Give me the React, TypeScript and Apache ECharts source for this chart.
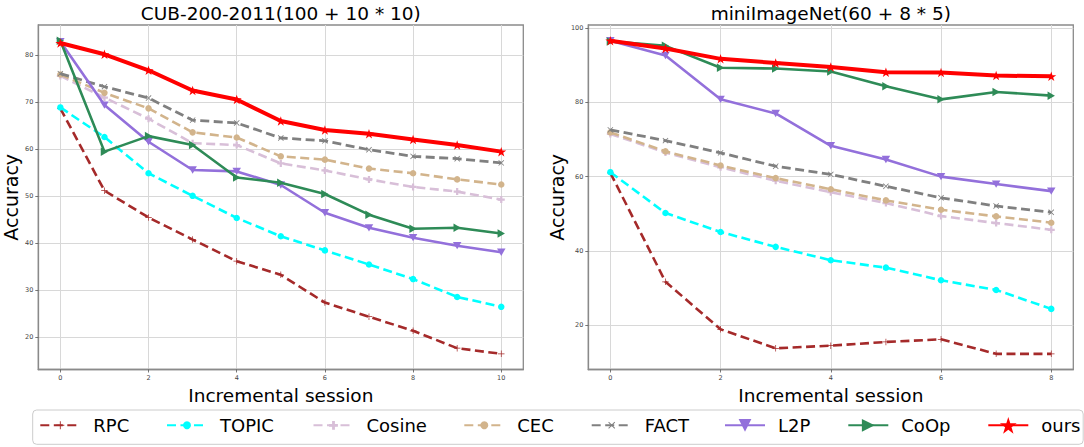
import React, { useEffect, useRef } from "react";
import * as echarts from "echarts";

// ---------- data ----------
const methods = ["RPC", "TOPIC", "Cosine", "CEC", "FACT", "L2P", "CoOp", "ours"];

const cubSessions = [0, 1, 2, 3, 4, 5, 6, 7, 8, 9, 10];
const cubRPC = [68.6, 51.1, 45.4, 40.7, 36.1, 33.2, 27.3, 24.3, 21.3, 17.6, 16.4];
const cubTOPIC = [68.8, 62.5, 54.8, 50.0, 45.3, 41.4, 38.4, 35.4, 32.3, 28.5, 26.4];
const cubCosine = [75.5, 70.9, 66.4, 61.2, 60.8, 56.9, 55.4, 53.5, 51.9, 50.9, 49.2];
const cubCEC = [75.8, 71.9, 68.6, 63.5, 62.4, 58.4, 57.7, 55.8, 54.8, 53.5, 52.4];
const cubFACT = [76.0, 73.2, 70.8, 66.1, 65.5, 62.3, 61.7, 59.8, 58.4, 57.9, 57.0];
const cubL2P = [82.8, 69.3, 61.5, 55.5, 55.2, 52.3, 46.4, 43.2, 41.1, 39.4, 38.0];
const cubCoOp = [83.0, 59.4, 62.7, 60.8, 53.9, 52.8, 50.4, 46.0, 43.0, 43.2, 42.0];
const cubOurs = [82.5, 80.1, 76.7, 72.4, 70.5, 65.9, 64.0, 63.2, 62.0, 60.8, 59.4];

const miniSessions = [0, 1, 2, 3, 4, 5, 6, 7, 8];
const miniRPC = [61.0, 31.7, 18.9, 13.8, 14.5, 15.5, 16.2, 12.3, 12.3];
const miniTOPIC = [61.2, 50.2, 45.1, 41.1, 37.5, 35.5, 32.1, 29.5, 24.4];
const miniCosine = [71.5, 66.5, 62.5, 58.9, 55.8, 52.9, 49.4, 47.5, 45.7];
const miniCEC = [71.9, 66.8, 63.0, 59.6, 56.6, 53.6, 51.1, 49.3, 47.6];
const miniFACT = [72.6, 69.7, 66.4, 62.8, 60.6, 57.4, 54.3, 52.1, 50.4];
const miniL2P = [96.6, 92.6, 80.8, 77.0, 68.3, 64.6, 60.0, 58.0, 56.1];
const miniCoOp = [96.4, 95.2, 89.3, 89.1, 88.3, 84.3, 80.8, 82.8, 81.8];
const miniOurs = [96.6, 94.5, 91.7, 90.6, 89.5, 88.1, 88.0, 87.2, 87.0];

const cubXTicks = [0, 2, 4, 6, 8, 10];
const cubYTicks = [20, 30, 40, 50, 60, 70, 80];
const miniXTicks = [0, 2, 4, 6, 8];
const miniYTicks = [20, 40, 60, 80, 100];

const cubTitle = "CUB-200-2011(100 + 10 * 10)";
const miniTitle = "miniImageNet(60 + 8 * 5)";
const xName = "Incremental session";
const yName = "Accuracy";

// ---------- styles ----------
const FONT = "DejaVu Sans";
const PLUS = "path://M-0.55,-5H0.55V-0.55H5V0.55H0.55V5H-0.55V0.55H-5V-0.55H-0.55Z";
const PLUS_FILLED = "path://M-1.6,-5H1.6V-1.6H5V1.6H1.6V5H-1.6V1.6H-5V-1.6H-1.6Z";
const TRI_DOWN = "path://M-5,-4.33L5,-4.33L0,4.33Z";
const TRI_RIGHT = "path://M-4.33,-5L4.33,0L-4.33,5Z";
const STAR =
  "path://M0,-1L0.2245,-0.309L0.9511,-0.309L0.3633,0.118L0.5878,0.809L0,0.382L-0.5878,0.809L-0.3633,0.118L-0.9511,-0.309L-0.2245,-0.309Z";

const styleOf: Record<string, any> = {
  RPC: { color: "#a52a2a", dash: true, width: 2.6, symbol: PLUS, size: 6.5, rotate: 0, legendH: 10 },
  TOPIC: { color: "#00ffff", dash: true, width: 2.6, symbol: "circle", size: 6.5, rotate: 0, legendH: 10 },
  Cosine: { color: "#d8bfd8", dash: true, width: 2.6, symbol: PLUS_FILLED, size: 7, rotate: 0, legendH: 11 },
  CEC: { color: "#d2b48c", dash: true, width: 2.6, symbol: "circle", size: 6.5, rotate: 0, legendH: 10 },
  FACT: { color: "#808080", dash: true, width: 2.8, symbol: PLUS, size: 7.5, rotate: 45, legendH: 11 },
  L2P: { color: "#9370db", dash: false, width: 2.6, symbol: TRI_DOWN, size: 8.5, rotate: 0, legendH: 16 },
  CoOp: { color: "#2e8b57", dash: false, width: 2.6, symbol: TRI_RIGHT, size: 8.5, rotate: 0, legendH: 16 },
  ours: { color: "#ff0000", dash: false, width: 4, symbol: STAR, size: 10, rotate: 0, legendH: 21 },
};

const legendLefts = [39.3, 166, 312.5, 463.3, 590.7, 724, 847.3, 987.3];

const cubValues: Record<string, number[]> = {
  RPC: cubRPC, TOPIC: cubTOPIC, Cosine: cubCosine, CEC: cubCEC,
  FACT: cubFACT, L2P: cubL2P, CoOp: cubCoOp, ours: cubOurs,
};
const miniValues: Record<string, number[]> = {
  RPC: miniRPC, TOPIC: miniTOPIC, Cosine: miniCosine, CEC: miniCEC,
  FACT: miniFACT, L2P: miniL2P, CoOp: miniCoOp, ours: miniOurs,
};

function makeSeries(name: string, sessions: number[], values: number[], idx: number, order: number) {
  const st = styleOf[name];
  return {
    type: "line",
    name,
    xAxisIndex: idx,
    yAxisIndex: idx,
    data: sessions.map((s, i) => [s, values[i]]),
    symbol: st.symbol,
    symbolSize: st.size,
    symbolRotate: st.rotate,
    symbolKeepAspect: true,
    showAllSymbol: true,
    lineStyle: { color: st.color, width: st.width, type: st.dash ? [9, 4.5] : "solid", cap: "butt" },
    itemStyle: { color: st.color, borderWidth: 0 },
    emphasis: { disabled: true },
    silent: true,
    z: 2 + order,
  };
}

function range(arrs: number[][]) {
  let lo = Infinity;
  let hi = -Infinity;
  arrs.forEach((a) => a.forEach((v) => { lo = Math.min(lo, v); hi = Math.max(hi, v); }));
  const pad = (hi - lo) * 0.05;
  return [lo - pad, hi + pad];
}

function xAxisCfg(idx: number, sessions: number[], ticks: number[]) {
  const n = sessions.length - 1;
  return {
    type: "value",
    gridIndex: idx,
    min: sessions[0] - n * 0.05,
    max: sessions[n] + n * 0.05,
    axisLine: { show: true, onZero: false, lineStyle: { color: "#8a8a8a", width: 1.3 } },
    axisTick: { show: true, customValues: ticks, length: 3, lineStyle: { color: "#555", width: 0.8 } },
    axisLabel: { show: true, customValues: ticks, fontSize: 6.5, color: "#444", margin: 5, fontFamily: FONT },
    splitLine: { show: true, lineStyle: { color: "#d8d8d8", width: 1 } },
    name: xName,
    nameLocation: "middle",
    nameGap: 13,
    nameTextStyle: { fontSize: 18.5, color: "#000", fontFamily: FONT },
  };
}

function yAxisCfg(idx: number, values: Record<string, number[]>, ticks: number[], gap: number) {
  const [lo, hi] = range(Object.values(values));
  return {
    type: "value",
    gridIndex: idx,
    min: lo,
    max: hi,
    axisLine: { show: true, onZero: false, lineStyle: { color: "#8a8a8a", width: 1.3 } },
    axisTick: { show: true, customValues: ticks, length: 3, lineStyle: { color: "#555", width: 0.8 } },
    axisLabel: { show: true, customValues: ticks, fontSize: 6.5, color: "#444", margin: 5, fontFamily: FONT },
    splitLine: { show: true, lineStyle: { color: "#d8d8d8", width: 1 } },
    name: yName,
    nameLocation: "middle",
    nameGap: gap,
    nameRotate: 90,
    nameTextStyle: { fontSize: 19, color: "#000", fontFamily: FONT },
  };
}

export default function App() {
  const ref = useRef<HTMLDivElement>(null);
  useEffect(() => {
    if (!ref.current) return;
    const chart = echarts.init(ref.current, undefined, { renderer: "svg" });
    const series: any[] = [];
    methods.forEach((m, i) => series.push(makeSeries(m, cubSessions, cubValues[m], 0, i)));
    methods.forEach((m, i) => series.push(makeSeries(m, miniSessions, miniValues[m], 1, i)));

    const gridBase = { top: 25, height: 344.5, width: 485, show: true, borderColor: "#8a8a8a", borderWidth: 1.3, backgroundColor: "transparent" };

    chart.setOption({
      animation: false,
      backgroundColor: "#ffffff",
      textStyle: { fontFamily: FONT },
      grid: [
        { ...gridBase, left: 38.3 },
        { ...gridBase, left: 588.3 },
      ],
      xAxis: [xAxisCfg(0, cubSessions, cubXTicks), xAxisCfg(1, miniSessions, miniXTicks)],
      yAxis: [yAxisCfg(0, cubValues, cubYTicks, 18), yAxisCfg(1, miniValues, miniYTicks, 20)],
      legend: methods.map((m, i) => ({
        data: [m],
        left: legendLefts[i],
        top: 414.3,
        orient: "horizontal",
        padding: 0,
        itemGap: 0,
        itemWidth: 40,
        itemHeight: styleOf[m].legendH,
        selectedMode: false,
        textStyle: { fontSize: 18, color: "#000", fontFamily: FONT, lineHeight: 22, padding: [0, 0, 0, 8] },
        z: 10,
      })),
      graphic: [
        {
          type: "rect",
          shape: { x: 32.7, y: 410, width: 1050.5, height: 34.3, r: 4 },
          style: { fill: "#ffffff", stroke: "#cccccc", lineWidth: 1 },
          z: 0,
          silent: true,
        },
        {
          type: "text",
          x: 280.8,
          y: 13.5,
          style: { text: cubTitle, fontSize: 18.5, fontFamily: FONT, fill: "#000", align: "center", verticalAlign: "middle" },
          silent: true,
        },
        {
          type: "text",
          x: 830.8,
          y: 13.5,
          style: { text: miniTitle, fontSize: 18.5, fontFamily: FONT, fill: "#000", align: "center", verticalAlign: "middle" },
          silent: true,
        },
      ],
      series,
    });
    return () => chart.dispose();
  }, []);
  return (
    <div
      ref={ref}
      style={{ position: "absolute", left: 0, top: 0, width: 1084, height: 447, background: "#fff" }}
    />
  );
}
